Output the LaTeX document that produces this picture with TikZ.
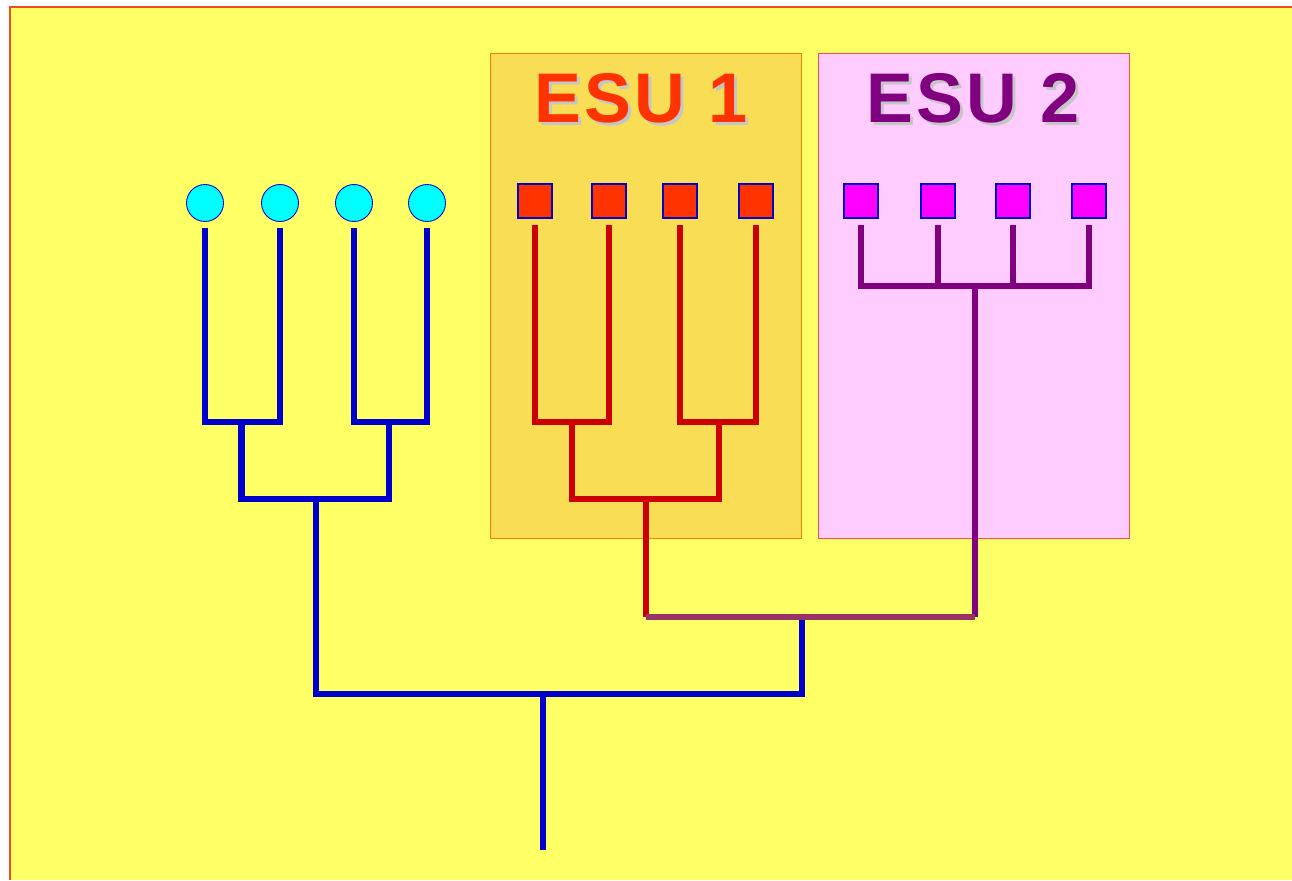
\documentclass[tikz,border=0pt]{standalone}
\usepackage{fontspec}
\setsansfont{Liberation Sans}
\newfontfamily\esufont[LetterSpace=5]{Liberation Sans}
\usetikzlibrary{calc}
\definecolor{bgyellow}{HTML}{FFFF66}
\definecolor{frameorange}{HTML}{E8501E}
\definecolor{esuonefill}{HTML}{F9DD55}
\definecolor{esutwofill}{HTML}{FFCCFF}
\definecolor{treeblue}{HTML}{0000CC}
\definecolor{treered}{HTML}{CC0000}
\definecolor{treepurple}{HTML}{800080}
\definecolor{treemix}{HTML}{993366}
\definecolor{squarered}{HTML}{FF3300}
\definecolor{squaremag}{HTML}{FF00FF}
\definecolor{leafcyan}{HTML}{00FFFF}

\tikzset{
  leafc/.style={circle,draw=treeblue,fill=leafcyan,line width=0.5pt,inner sep=0pt,minimum size=0.74cm},
  leafr/.style={rectangle,draw=treeblue,fill=squarered,line width=0.6pt,inner sep=0pt,minimum size=0.68cm},
  leafm/.style={rectangle,draw=treeblue,fill=squaremag,line width=0.6pt,inner sep=0pt,minimum size=0.68cm},
  branch/.style={line width=3.6pt,line join=miter,shorten <=0.12cm},
  twig/.style={branch,shorten >=0.12cm},
  esutitle/.style={font=\esufont\bfseries\fontsize{40}{48}\selectfont,inner sep=0pt}
}

\begin{document}
\begin{tikzpicture}[x=0.02cm,y=-0.02cm]
	\useasboundingbox (0,0) rectangle (1292,880);
	\fill[bgyellow] (10,7) rectangle (1292,880);
	\draw[frameorange,line width=0.8pt] (10,880) -- (10,7) -- (1292,7);
	% boxes of the two units
	\draw[esuonefill,fill=esuonefill] (490,53) rectangle (801,538);
	\draw[orange,line width=0.5pt] (490,53) rectangle (801,538);
	\draw[esutwofill,fill=esutwofill] (818,53) rectangle (1129,538);
	\draw[red!70,line width=0.5pt] (818,53) rectangle (1129,538);
	\node[esutitle,text=gray!45] at (644,101) {ESU 1};
	\node[esutitle,text=squarered] (esu1) at (641,98) {ESU 1};
	\node[esutitle,text=gray!45] at (976,101) {ESU 2};
	\node[esutitle,text=treepurple] (esu2) at (973,98) {ESU 2};
	% leaves
	\node[leafc] (c1) at (205,203) {};
	\node[leafc] (c2) at (280,203) {};
	\node[leafc] (c3) at (354,203) {};
	\node[leafc] (c4) at (427,203) {};
	\node[leafr] (r1) at (535,201) {};
	\node[leafr] (r2) at (609,201) {};
	\node[leafr] (r3) at (680,201) {};
	\node[leafr] (r4) at (756,201) {};
	\node[leafm] (m1) at (861,201) {};
	\node[leafm] (m2) at (938,201) {};
	\node[leafm] (m3) at (1013,201) {};
	\node[leafm] (m4) at (1089,201) {};
	% junctions
	\coordinate (p1) at (241.5,422);
	\coordinate (p2) at (389,422);
	\coordinate (p3) at (572,422);
	\coordinate (p4) at (719,422);
	\coordinate (q1) at (316,499);
	\coordinate (q2) at (646,499);
	\coordinate (q3) at (975,286);
	\coordinate (s1) at (646,617);
	\coordinate (s2) at (975,617);
	\coordinate (s3) at (802,617);
	\coordinate (u1) at (543,694);
	\coordinate (root) at (543,850);
	% blue tree
	\draw[twig,treeblue] (c1.south) |- (p1) -| (c2.south);
	\draw[twig,treeblue] (c3.south) |- (p2) -| (c4.south);
	\draw[treeblue,line width=3.6pt,line join=miter] (p1) |- (q1) -| (p2);
	\draw[treeblue,line width=3.6pt,line join=miter] (q1) |- (u1) -| (s3);
	\draw[treeblue,line width=3.6pt] (u1) -- (root);
	% red tree
	\draw[twig,treered] (r1.south) |- (p3) -| (r2.south);
	\draw[twig,treered] (r3.south) |- (p4) -| (r4.south);
	\draw[treered,line width=3.6pt,line join=miter] (p3) |- (q2) -| (p4);
	\draw[treered,line width=3.6pt] (q2) -- (s1);
	% purple tree
	\draw[twig,treepurple] (m1.south) |- (q3) -| (m4.south);
	\draw[branch,treepurple] (m2.south) -- (m2.south |- q3);
	\draw[branch,treepurple] (m3.south) -- (m3.south |- q3);
	\draw[treepurple,line width=3.6pt] (q3) -- (s2);
	\draw[treemix,line width=3.6pt] (s1) -- (s2);
\end{tikzpicture}
\end{document}
